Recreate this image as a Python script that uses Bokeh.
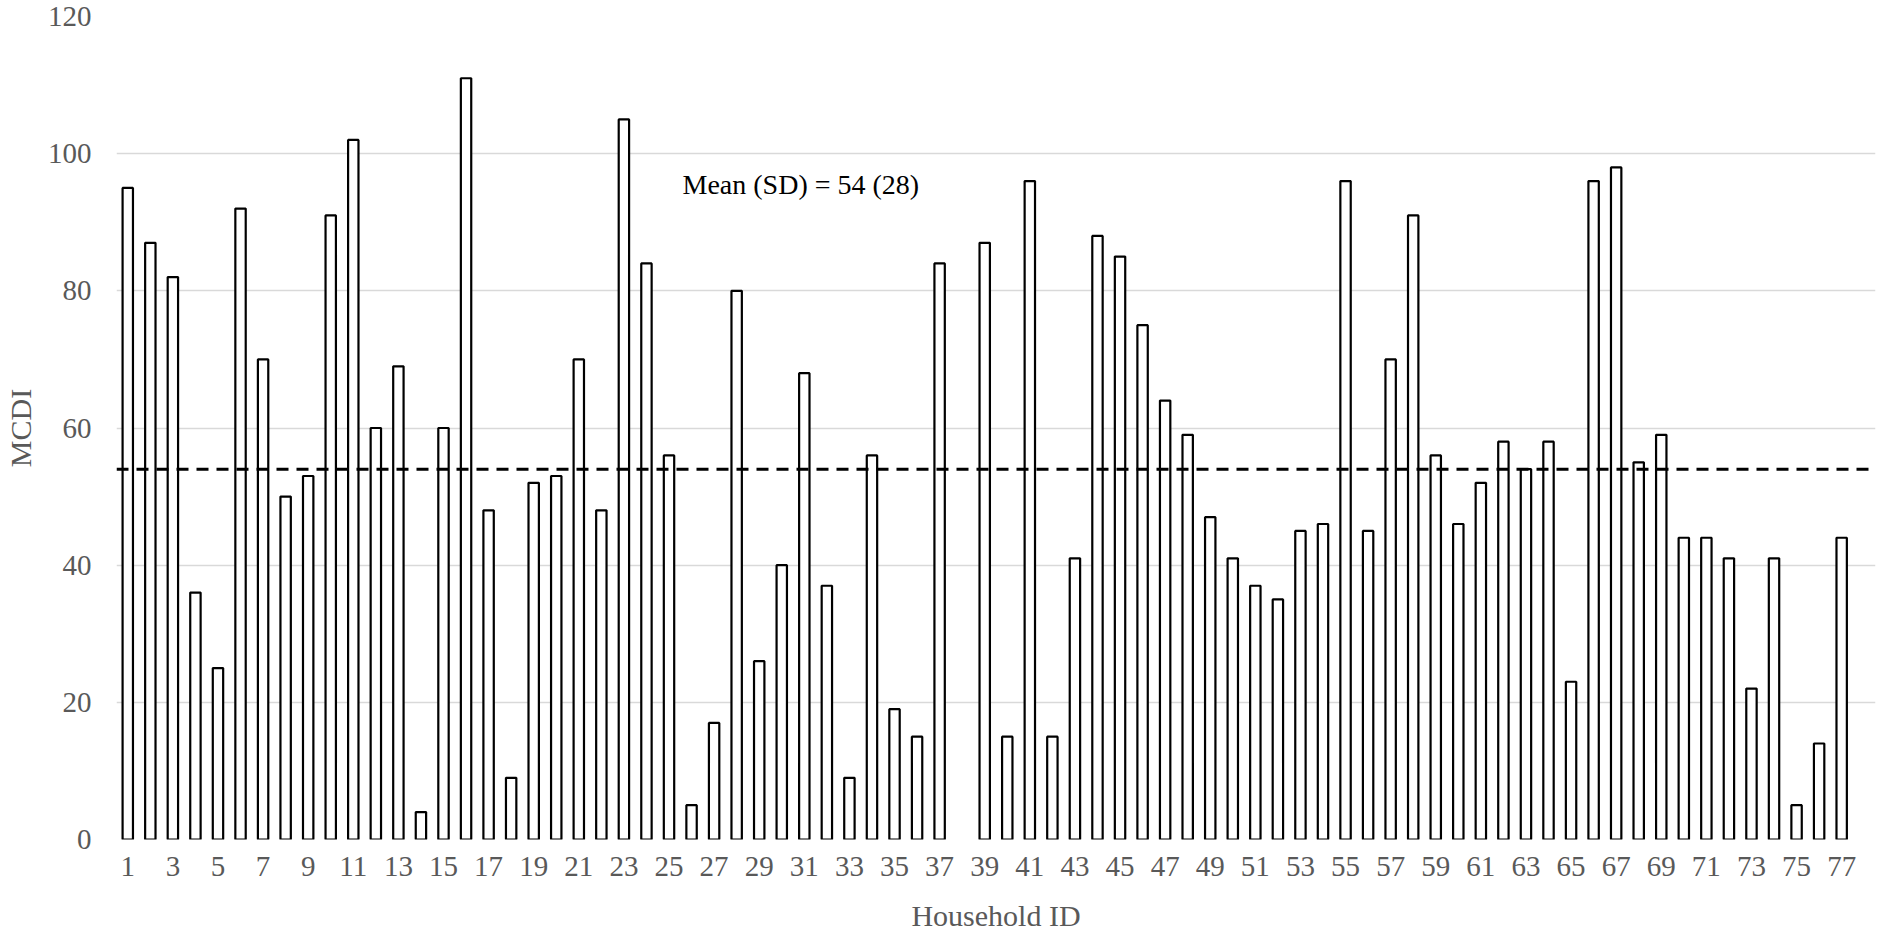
import numpy as np
from bokeh.plotting import figure
from bokeh.models import Range1d, FixedTicker, Span, Label, ColumnDataSource
from bokeh.embed import file_html
from bokeh.resources import INLINE

# ---- data ----
household_ids = list(range(1, 78))
mcdi = [95, 87, 82, 36, 25, 92, 70, 50, 53, 91,
        102, 60, 69, 4, 60, 111, 48, 9, 52, 53,
        70, 48, 105, 84, 56, 5, 17, 80, 26, 40,
        68, 37, 9, 56, 19, 15, 84, np.nan, 87, 15,
        96, 15, 41, 88, 85, 75, 64, 59, 47, 41,
        37, 35, 45, 46, 96, 45, 70, 91, 56, 46,
        52, 58, 54, 58, 23, 96, 98, 55, 59, 44,
        44, 41, 22, 41, 5, 14, 44]
x_tick_labels = list(range(1, 78, 2))
y_ticks = [0, 20, 40, 60, 80, 100, 120]
mean_value = 54
sd_value = 28
annotation_text = f"Mean (SD) = {mean_value} ({sd_value})"
x_title = "Household ID"
y_title = "MCDI"

FONT = "Liberation Serif"
GRAY = "#595959"

W, H = 1886, 934
p = figure(width=W, height=H, output_backend="svg", toolbar_location=None,
           x_range=Range1d(0.5, 78.5), y_range=Range1d(0, 120),
           min_border_left=115, min_border_right=11,
           min_border_top=16, min_border_bottom=95)
p.outline_line_color = None
p.background_fill_color = "white"
p.border_fill_color = "white"

src = ColumnDataSource(dict(x=household_ids, top=mcdi))
p.vbar(x="x", top="top", bottom=0, width=0.46, source=src,
       fill_color="white", line_color="black", line_width=2.2)

p.add_layout(Span(location=mean_value, dimension="width", line_color="black",
                  line_width=3, line_dash="12 8"))

p.add_layout(Label(x=25.6, y=95.5, text=annotation_text, text_font=FONT,
                   text_font_size="28px", text_color="black",
                   text_align="left", text_baseline="alphabetic"))

# axes
p.xaxis.ticker = FixedTicker(ticks=x_tick_labels)
p.yaxis.ticker = FixedTicker(ticks=y_ticks)
for ax in (p.xaxis, p.yaxis):
    ax.axis_line_color = None
    ax.major_tick_line_color = None
    ax.minor_tick_line_color = None
    ax.major_tick_out = 0
    ax.major_tick_in = 0
    ax.minor_tick_out = 0
    ax.minor_tick_in = 0
    ax.major_label_text_font = FONT
    ax.major_label_text_font_size = "29px"
    ax.major_label_text_color = GRAY
    ax.axis_label_text_font = FONT
    ax.axis_label_text_font_size = "30px"
    ax.axis_label_text_color = GRAY
    ax.axis_label_text_font_style = "normal"

p.xaxis.axis_label = x_title
p.yaxis.axis_label = y_title
p.xaxis.major_label_standoff = 17
p.xaxis.axis_label_standoff = 20
p.yaxis.major_label_standoff = 25
p.yaxis.axis_label_standoff = 8

p.xgrid.grid_line_color = None
p.ygrid.grid_line_color = "#d9d9d9"
p.ygrid.grid_line_width = 1.5

open("out.html", "w").write(file_html(p, INLINE))
